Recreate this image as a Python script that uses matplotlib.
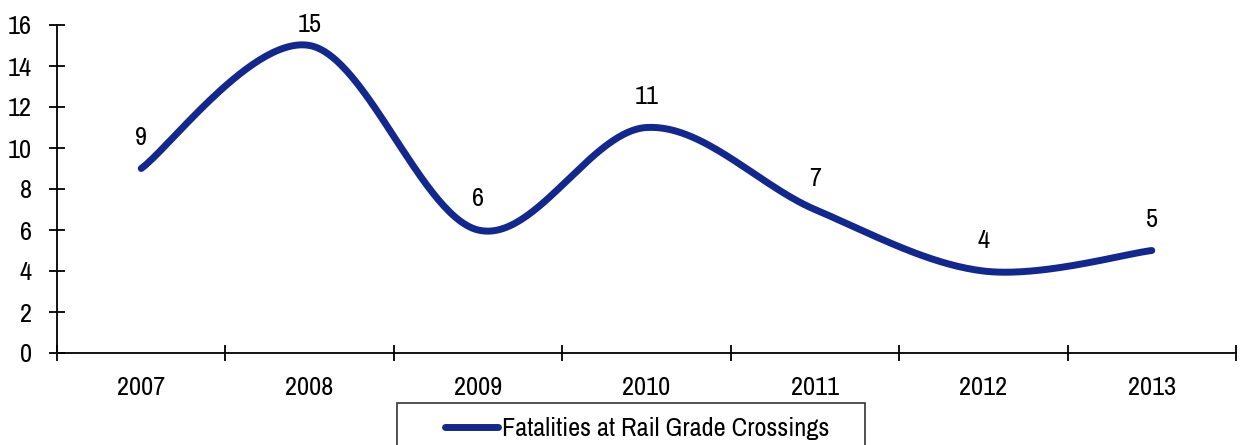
import matplotlib
matplotlib.use("Agg")
import matplotlib.pyplot as plt
import numpy as np
from matplotlib.patches import Rectangle

years = ["2007", "2008", "2009", "2010", "2011", "2012", "2013"]
fatalities = [9, 15, 6, 11, 7, 4, 5]
series_name = "Fatalities at Rail Grade Crossings"
y_ticks = [0, 2, 4, 6, 8, 10, 12, 14, 16]

plt.rcParams["font.family"] = ["Archivo Narrow", "DejaVu Sans"]
LINE_COLOR = "#13288A"
FS = 19
PX = 0.72  # points per pixel at dpi 100


def smooth_curve(xs, ys, steps=60):
    # Excel-style smoothed line: cubic Bezier segments with 1/6 tangents
    pts = np.column_stack([xs, ys]).astype(float)
    n = len(pts)
    out = []
    for i in range(n - 1):
        p0 = pts[max(i - 1, 0)]
        p1 = pts[i]
        p2 = pts[i + 1]
        p3 = pts[min(i + 2, n - 1)]
        c1 = p1 + (p2 - p0) / 6.0
        c2 = p2 - (p3 - p1) / 6.0
        t = np.linspace(0, 1, steps)[:, None]
        seg = ((1 - t) ** 3) * p1 + 3 * ((1 - t) ** 2) * t * c1 + 3 * (1 - t) * t ** 2 * c2 + t ** 3 * p2
        out.append(seg if i == 0 else seg[1:])
    curve = np.vstack(out)
    return curve[:, 0], curve[:, 1]


fig = plt.figure(figsize=(12.43, 4.45), dpi=100)
ax = fig.add_axes([57 / 1243, 1 - 353 / 445, (1236 - 57) / 1243, (353 - 25) / 445])

x = np.arange(len(years))
cx, cy = smooth_curve(x, fatalities)
ax.plot(cx, cy, color=LINE_COLOR, linewidth=5, solid_capstyle="round", clip_on=False)

# data labels (the top one sits closer, squeezed by the plot top)
for xi, yi in zip(x, fatalities):
    offset = 33 if yi < 15 else 23
    ax.annotate(str(yi), (xi, yi), xytext=(0, offset * PX), textcoords="offset points",
                ha="center", va="center_baseline", fontsize=FS, annotation_clip=False)

ax.set_xlim(-0.5, len(years) - 0.5)
ax.set_ylim(0, 16)
ax.set_yticks(y_ticks)
ax.set_xticks(np.arange(-0.5, len(years), 1.0))
ax.set_xticklabels([])
ax.set_xticks(x, minor=True)
ax.set_xticklabels(years, minor=True)
ax.tick_params(axis="x", which="major", direction="inout", length=16 * PX, width=1.3)
ax.tick_params(axis="x", which="minor", length=0, pad=23 * PX, labelsize=FS)
ax.tick_params(axis="y", direction="inout", length=16 * PX, width=1.3, pad=17 * PX, labelsize=FS)

for side in ["top", "right"]:
    ax.spines[side].set_visible(False)
for side in ["left", "bottom"]:
    ax.spines[side].set_linewidth(1.3)

# legend box, partly below the figure edge as in the source
fig.patches.append(Rectangle((397 / 1243, -10 / 445), 468 / 1243, (445 - 403 + 10) / 445,
                             transform=fig.transFigure, fill=False, edgecolor="#333333",
                             linewidth=1.2))
legend_y = 1 - 427 / 445
fig.lines.append(plt.Line2D([445 / 1243, 498 / 1243], [legend_y, legend_y], transform=fig.transFigure,
                            color=LINE_COLOR, linewidth=5, solid_capstyle="round"))
fig.text(502 / 1243, legend_y, series_name, ha="left", va="center_baseline", fontsize=FS)

fig.savefig("out.png", dpi=100)
